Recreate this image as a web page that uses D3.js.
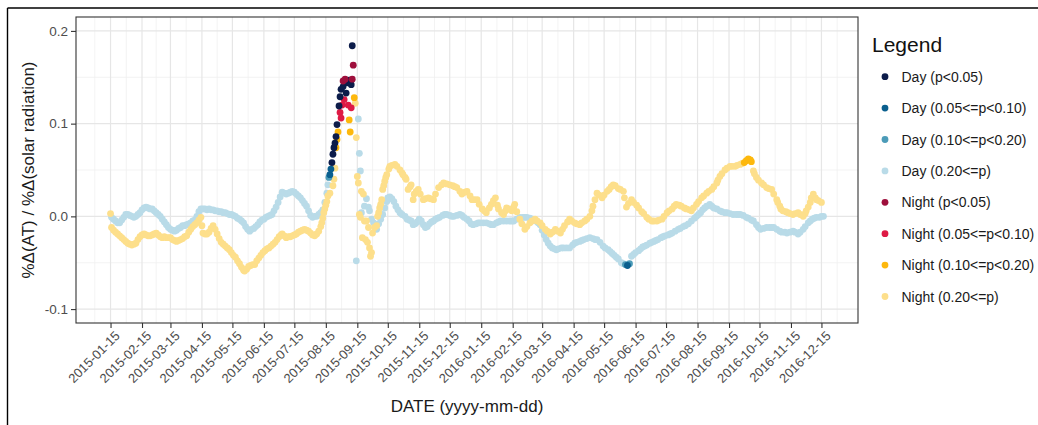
<!DOCTYPE html>
<html>
<head>
<meta charset="utf-8">
<script src="https://cdn.jsdelivr.net/npm/d3@7/dist/d3.min.js"></script>
<style>
  body { margin: 0; background: #fff; }
  svg { display: block; font-family: "Liberation Sans", Arial, Helvetica, sans-serif; }
</style>
</head>
<body>
<svg id="chart" width="1038" height="425"></svg>
<script>
// ---- data -------------------------------------------------------------
// Each point is [day offset from startDate, %Δ(AT) / %Δ(solar radiation)].
const startDate = "2015-01-15";

const tickLabels = [
  "2015-01-15","2015-02-15","2015-03-15","2015-04-15","2015-05-15","2015-06-15",
  "2015-07-15","2015-08-15","2015-09-15","2015-10-15","2015-11-15","2015-12-15",
  "2016-01-15","2016-02-15","2016-03-15","2016-04-15","2016-05-15","2016-06-15",
  "2016-07-15","2016-08-15","2016-09-15","2016-10-15","2016-11-15","2016-12-15"
];
const yTicks = [-0.1, 0.0, 0.1, 0.2];
const yMinorTicks = [-0.05, 0.05, 0.15];

const legendLabels = [
  "Day (p<0.05)", "Day (0.05<=p<0.10)", "Day (0.10<=p<0.20)", "Day (0.20<=p)",
  "Night (p<0.05)", "Night (0.05<=p<0.10)", "Night (0.10<=p<0.20)", "Night (0.20<=p)"
];
const legendColors = [
  "#0c1c4a", "#0a5f8e", "#4b9bb8", "#b9dbe8",
  "#9e0f3c", "#de1a45", "#fdb80d", "#fddf8b"
];

// Day, 0.20<=p
const dayWeak = [
  [1,-0.001],[3,-0.003],[5,-0.005],[7,-0.007],[9,-0.007],[11,-0.004],[13,-0.001],[15,0.002],[17,0.002],[19,0.001],
  [21,0.000],[23,-0.001],[25,0.000],[27,0.002],[29,0.004],[31,0.007],[33,0.009],[35,0.010],[37,0.009],[39,0.008],
  [41,0.008],[43,0.006],[45,0.004],[47,0.002],[49,0.000],[51,-0.003],[53,-0.006],[55,-0.009],[57,-0.012],[59,-0.014],
  [61,-0.015],[63,-0.016],[65,-0.015],[67,-0.013],[69,-0.012],[71,-0.010],[73,-0.010],[75,-0.009],[77,-0.008],[79,-0.007],
  [81,-0.005],[83,-0.004],[85,0.000],[87,0.005],[89,0.008],[91,0.008],[93,0.008],[95,0.007],[97,0.008],[99,0.007],
  [101,0.007],[103,0.006],[105,0.006],[107,0.005],[109,0.005],[111,0.004],[113,0.004],[115,0.003],[117,0.002],[119,0.002],
  [121,0.001],[123,0.000],[125,-0.002],[127,-0.003],[129,-0.005],[131,-0.007],[133,-0.011],[135,-0.014],[137,-0.016],[139,-0.014],
  [141,-0.013],[143,-0.011],[145,-0.009],[147,-0.006],[149,-0.004],[151,-0.003],[153,-0.001],[155,0.000],[157,0.001],[159,0.002],
  [161,0.006],[163,0.010],[165,0.015],[167,0.021],[169,0.026],[171,0.025],[173,0.024],[175,0.025],[177,0.026],[179,0.027],
  [181,0.026],[183,0.024],[185,0.022],[187,0.020],[189,0.017],[191,0.014],[193,0.011],[195,0.006],[197,0.001],[199,-0.001],
  [201,0.000],[203,0.000],[205,0.002],[207,0.004],[209,0.007],[211,0.015],[213,0.025],[214,0.034],
  [242,-0.048],[244,0.105],[245,0.068],[246,0.049],[247,0.004],[250,0.011],[252,0.019],[254,0.010],[255,0.006],[257,-0.003],
  [259,-0.007],[261,-0.011],[262,-0.014],[264,-0.008],[266,-0.003],[268,0.002],[270,0.009],[272,0.016],[273,0.020],[275,0.021],
  [277,0.019],[279,0.016],[281,0.011],[283,0.007],[285,0.004],[287,0.002],[290,0.000],[292,-0.003],[294,-0.004],[296,-0.005],
  [298,-0.009],[300,-0.008],[302,-0.006],[304,-0.003],[306,-0.005],[308,-0.009],[310,-0.012],[312,-0.011],[314,-0.008],[316,-0.006],
  [318,-0.005],[320,-0.003],[322,-0.002],[324,-0.001],[327,0.001],[329,0.002],[331,0.002],[334,0.001],[336,0.000],[338,0.000],
  [341,0.001],[344,0.002],[346,0.001],[348,-0.001],[351,-0.003],[353,-0.005],[355,-0.008],[357,-0.009],[360,-0.008],[362,-0.007],
  [364,-0.007],[367,-0.007],[370,-0.007],[373,-0.008],[375,-0.009],[377,-0.009],[380,-0.007],[382,-0.006],[384,-0.005],[387,-0.005],
  [390,-0.005],[393,-0.005],[395,-0.005],[397,-0.005],[400,-0.003],[403,-0.001],[406,-0.001],[408,-0.001],[410,-0.001],[413,-0.002],
  [416,-0.003],[419,-0.005],[421,-0.007],[423,-0.009],[425,-0.015],[427,-0.020],[429,-0.025],[431,-0.029],[433,-0.032],[435,-0.034],
  [437,-0.035],[439,-0.036],[441,-0.035],[444,-0.034],[446,-0.034],[449,-0.034],[452,-0.034],[455,-0.031],[457,-0.029],[459,-0.028],
  [462,-0.027],[464,-0.026],[466,-0.025],[469,-0.024],[472,-0.023],[475,-0.024],[477,-0.025],[479,-0.025],[482,-0.028],[485,-0.032],
  [487,-0.034],[490,-0.036],[492,-0.038],[494,-0.040],[496,-0.042],[498,-0.044],[500,-0.046],[503,-0.050],[505,-0.051],
  [513,-0.043],[515,-0.041],[517,-0.039],[520,-0.037],[522,-0.035],[524,-0.033],[526,-0.032],[528,-0.031],[531,-0.029],[533,-0.028],
  [535,-0.027],[537,-0.026],[539,-0.025],[542,-0.023],[544,-0.022],[546,-0.021],[549,-0.020],[551,-0.019],[553,-0.018],[556,-0.016],
  [559,-0.014],[561,-0.013],[564,-0.011],[566,-0.010],[569,-0.008],[572,-0.005],[575,-0.002],[577,0.000],[579,0.002],[581,0.004],
  [583,0.007],[585,0.009],[587,0.011],[590,0.013],[592,0.011],[594,0.009],[597,0.008],[600,0.006],[602,0.005],[605,0.004],
  [607,0.004],[610,0.003],[613,0.002],[616,0.002],[618,0.002],[620,0.002],[623,0.001],[626,-0.001],[628,-0.002],[631,-0.004],
  [633,-0.005],[636,-0.009],[638,-0.012],[640,-0.014],[643,-0.013],[646,-0.012],[649,-0.012],[651,-0.012],[653,-0.012],[656,-0.014],
  [659,-0.016],[661,-0.017],[664,-0.017],[666,-0.018],[669,-0.017],[672,-0.016],[674,-0.017],[677,-0.019],[679,-0.017],[682,-0.014],
  [684,-0.011],[687,-0.007],[689,-0.005],[691,-0.003],[693,-0.002],[695,-0.001],[698,-0.001],[700,0.000],[702,0.000]
];
// Day, 0.10<=p<0.20
const dayP20 = [[215,0.042],[507,-0.052],[511,-0.051]];
// Day, 0.05<=p<0.10
const dayP10 = [[216,0.045],[217,0.051],[509,-0.053]];
// Day, p<0.05
const dayP05 = [
  [218,0.058],[219,0.067],[220,0.074],[221,0.079],[222,0.086],[223,0.099],[225,0.119],[226,0.129],
  [227,0.137],[229,0.140],[231,0.146],[232,0.133],[233,0.144],[235,0.147],[237,0.142],[238,0.184]
];

// Night, 0.20<=p
const nightWeak = [
  [0,0.003],[1,-0.012],[3,-0.015],[5,-0.017],[7,-0.019],[9,-0.021],[11,-0.023],[13,-0.025],[15,-0.027],[17,-0.029],
  [19,-0.030],[21,-0.031],[23,-0.030],[25,-0.029],[27,-0.025],[29,-0.022],[31,-0.020],[33,-0.019],[35,-0.020],[37,-0.021],
  [39,-0.021],[41,-0.020],[43,-0.019],[45,-0.018],[47,-0.020],[49,-0.022],[51,-0.023],[53,-0.022],[55,-0.023],[57,-0.023],
  [59,-0.023],[61,-0.025],[63,-0.026],[65,-0.027],[67,-0.026],[69,-0.025],[71,-0.024],[73,-0.022],[75,-0.021],[77,-0.017],
  [79,-0.014],[81,-0.011],[83,-0.009],[85,-0.007],[87,-0.004],[89,-0.001],[90,-0.010],[91,-0.018],[93,-0.019],[95,-0.019],
  [97,-0.017],[99,-0.013],[101,-0.010],[103,-0.014],[105,-0.019],[107,-0.024],[109,-0.028],[111,-0.030],[113,-0.032],[115,-0.034],
  [117,-0.036],[119,-0.039],[121,-0.042],[123,-0.044],[125,-0.048],[127,-0.051],[129,-0.055],[131,-0.058],[132,-0.059],[134,-0.057],
  [136,-0.054],[138,-0.053],[140,-0.052],[142,-0.052],[144,-0.048],[146,-0.045],[148,-0.042],[150,-0.039],[152,-0.037],[154,-0.035],
  [156,-0.034],[158,-0.032],[160,-0.030],[162,-0.028],[164,-0.025],[166,-0.022],[168,-0.020],[169,-0.019],[171,-0.021],[173,-0.023],
  [175,-0.022],[177,-0.022],[179,-0.021],[181,-0.020],[183,-0.019],[185,-0.017],[187,-0.016],[189,-0.015],[191,-0.014],[193,-0.015],
  [195,-0.016],[197,-0.018],[199,-0.020],[201,-0.021],[203,-0.019],[205,-0.016],[207,-0.011],[208,-0.007],[209,-0.002],[210,0.004],
  [211,0.008],[212,0.012],[213,0.016],[214,0.022],[216,0.025],[219,0.033],[220,0.040],[221,0.052],
  [241,0.122],[242,0.085],[243,0.043],[244,0.036],[245,0.002],[246,-0.001],[247,0.027],[248,-0.023],[249,0.024],[250,-0.005],
  [251,-0.025],[252,-0.005],[253,-0.028],[254,-0.012],[255,-0.034],[256,-0.043],[257,-0.039],[258,-0.018],
  [260,-0.012],[262,-0.010],[263,0.000],[264,0.004],[265,0.009],[266,0.013],[267,0.018],[268,0.029],[269,0.033],[270,0.038],
  [271,0.042],[272,0.045],[274,0.051],[275,0.054],[277,0.055],[280,0.056],[282,0.054],[285,0.050],[287,0.047],[288,0.045],
  [290,0.042],[291,0.040],[293,0.029],[295,0.032],[296,0.034],[298,0.018],[299,0.024],[301,0.027],[303,0.029],[305,0.024],
  [308,0.018],[310,0.019],[313,0.020],[315,0.019],[318,0.018],[320,0.024],[323,0.031],[326,0.034],[328,0.036],[331,0.035],
  [334,0.034],[337,0.033],[339,0.032],[341,0.031],[344,0.027],[346,0.024],[349,0.026],[351,0.027],[354,0.022],[356,0.018],
  [358,0.018],[361,0.018],[363,0.013],[366,0.008],[368,0.006],[370,0.004],[373,0.009],[375,0.013],[377,0.017],[379,0.020],
  [381,0.012],[382,0.008],[385,0.004],[387,0.002],[389,0.006],[390,0.009],[392,0.008],[395,0.006],[397,0.010],[398,0.013],
  [400,0.005],[403,-0.003],[405,-0.008],[408,-0.014],[410,-0.011],[413,-0.007],[415,-0.005],[418,-0.003],[420,-0.005],[423,-0.007],
  [425,-0.010],[428,-0.014],[430,-0.016],[433,-0.019],[435,-0.017],[438,-0.014],[440,-0.016],[443,-0.018],[445,-0.014],[447,-0.010],
  [450,-0.006],[452,-0.003],[454,-0.005],[457,-0.007],[459,-0.008],[462,-0.009],[464,-0.007],[467,-0.005],[469,-0.003],[472,0.000],
  [474,0.006],[475,0.011],[477,0.018],[479,0.025],[481,0.023],[484,0.020],[486,0.023],[489,0.027],[491,0.029],[493,0.032],
  [495,0.034],[497,0.033],[500,0.030],[502,0.029],[505,0.027],[506,0.020],[508,0.010],[510,0.014],[513,0.018],[515,0.015],
  [518,0.012],[520,0.009],[523,0.005],[525,0.003],[528,-0.001],[530,-0.003],[533,-0.005],[535,-0.005],[538,-0.005],[540,-0.004],
  [543,-0.003],[545,0.000],[548,0.004],[550,0.006],[553,0.008],[555,0.011],[557,0.013],[560,0.012],[562,0.011],[565,0.009],
  [567,0.008],[570,0.007],[572,0.006],[574,0.009],[577,0.013],[579,0.016],[582,0.020],[584,0.022],[587,0.025],[589,0.027],
  [592,0.029],[594,0.032],[597,0.036],[598,0.039],[600,0.043],[602,0.046],[605,0.050],[607,0.052],[610,0.054],[612,0.054],
  [615,0.054],[617,0.055],[620,0.056],[622,0.057],
  [633,0.049],[634,0.046],[636,0.042],[638,0.039],[641,0.036],[643,0.034],[646,0.031],[648,0.030],[651,0.029],[653,0.024],
  [656,0.018],[657,0.015],[659,0.011],[660,0.008],[662,0.006],[665,0.005],[667,0.004],[669,0.003],[672,0.002],[674,0.003],
  [677,0.004],[679,0.002],[682,0.000],[684,0.003],[685,0.006],[687,0.010],[689,0.015],[690,0.020],[692,0.024],[694,0.020],
  [695,0.018],[697,0.017],[700,0.015]
];
// Night, 0.10<=p<0.20
const nightP20 = [
  [222,0.074],[223,0.083],[224,0.091],[235,0.104],[236,0.091],[240,0.128],
  [624,0.058],[626,0.060],[628,0.062],[630,0.061],[631,0.059]
];
// Night, 0.05<=p<0.10
const nightP10 = [[226,0.112],[227,0.106],[228,0.120],[230,0.126],[233,0.146],[234,0.120],[237,0.117]];
// Night, p<0.05
const nightP05 = [[229,0.146],[231,0.148],[238,0.148],[239,0.163]];

// ---- layout -----------------------------------------------------------
const W = 1038, H = 425;
const panel = { left: 76, right: 858, top: 17, bottom: 323 };
const pointRadius = 3.4;

const svg = d3.select("#chart");
const parse = d3.utcParse("%Y-%m-%d");
const t0 = parse(startDate);
const dayToDate = d => d3.utcDay.offset(t0, d);

const x = d3.scaleUtc()
  .domain([d3.utcDay.offset(t0, -34), d3.utcDay.offset(t0, 736)])
  .range([panel.left, panel.right]);
const y = d3.scaleLinear()
  .domain([-0.115, 0.215])
  .range([panel.bottom, panel.top]);

const tickDates = tickLabels.map(parse);
// minor vertical grid: midway between the monthly breaks, one extra at each end
const minorDates = [];
for (let i = -1; i < tickDates.length; i++) {
  const a = i < 0 ? d3.utcMonth.offset(tickDates[0], -1) : tickDates[i];
  const b = i + 1 < tickDates.length ? tickDates[i + 1] : d3.utcMonth.offset(tickDates[i], 1);
  minorDates.push(new Date((+a + +b) / 2));
}

// outer frame (only left and top edges fall inside the canvas)
svg.append("rect").attr("x", 0).attr("y", 0).attr("width", W).attr("height", H).attr("fill", "#fff");
svg.append("line").attr("x1", 7.5).attr("x2", 7.5).attr("y1", 8).attr("y2", H)
  .attr("stroke", "#000").attr("stroke-width", 1.4);
svg.append("line").attr("x1", 7.5).attr("x2", W).attr("y1", 8).attr("y2", 8)
  .attr("stroke", "#000").attr("stroke-width", 1.4);

// grid
const grid = svg.append("g");
grid.selectAll("line.vmin").data(minorDates.filter(d => x(d) > panel.left && x(d) < panel.right))
  .join("line").attr("x1", d => x(d)).attr("x2", d => x(d))
  .attr("y1", panel.top).attr("y2", panel.bottom)
  .attr("stroke", "#f0f0f0").attr("stroke-width", 0.8);
grid.selectAll("line.hmin").data(yMinorTicks)
  .join("line").attr("y1", d => y(d)).attr("y2", d => y(d))
  .attr("x1", panel.left).attr("x2", panel.right)
  .attr("stroke", "#f0f0f0").attr("stroke-width", 0.8);
grid.selectAll("line.vmaj").data(tickDates)
  .join("line").attr("x1", d => x(d)).attr("x2", d => x(d))
  .attr("y1", panel.top).attr("y2", panel.bottom)
  .attr("stroke", "#e6e6e6").attr("stroke-width", 1.2);
grid.selectAll("line.hmaj").data(yTicks)
  .join("line").attr("y1", d => y(d)).attr("y2", d => y(d))
  .attr("x1", panel.left).attr("x2", panel.right)
  .attr("stroke", "#e6e6e6").attr("stroke-width", 1.2);

// points, weakest classes first so the significant ones sit on top
const layers = [
  [dayWeak, 3], [nightWeak, 7],
  [dayP20, 2], [dayP10, 1],
  [nightP20, 6], [nightP10, 5],
  [dayP05, 0], [nightP05, 4]
];
const pts = svg.append("g");
layers.forEach(([series, k]) => {
  pts.append("g").selectAll("circle")
    .data(series)
    .join("circle")
    .attr("cx", d => x(dayToDate(d[0])))
    .attr("cy", d => y(d[1]))
    .attr("r", pointRadius)
    .attr("fill", legendColors[k]);
});

// panel border
svg.append("rect")
  .attr("x", panel.left).attr("y", panel.top)
  .attr("width", panel.right - panel.left).attr("height", panel.bottom - panel.top)
  .attr("fill", "none").attr("stroke", "#333").attr("stroke-width", 1.1);

// y axis
const yAxis = svg.append("g").attr("transform", `translate(${panel.left},0)`)
  .call(d3.axisLeft(y).tickValues(yTicks).tickSize(5).tickPadding(3)
    .tickFormat(d => d3.format(".1f")(d).replace("\u2212", "-")));
yAxis.select(".domain").remove();
yAxis.selectAll(".tick line").attr("stroke", "#333").attr("stroke-width", 1.1);
yAxis.selectAll(".tick text").attr("fill", "#4d4d4d").style("font-size", "13.5px");

// x axis
const xAxis = svg.append("g").attr("transform", `translate(0,${panel.bottom})`)
  .call(d3.axisBottom(x).tickValues(tickDates).tickFormat((d, i) => tickLabels[i]).tickSize(5));
xAxis.select(".domain").remove();
xAxis.selectAll(".tick line").attr("stroke", "#333").attr("stroke-width", 1.1);
xAxis.selectAll(".tick text")
  .attr("fill", "#4d4d4d").style("font-size", "13px")
  .attr("text-anchor", "end")
  .attr("x", 0).attr("y", 0).attr("dy", "0.72em")
  .attr("transform", "translate(3,7) rotate(-45)");

// axis titles
svg.append("text")
  .attr("x", (panel.left + panel.right) / 2).attr("y", 412)
  .attr("text-anchor", "middle").attr("fill", "#1a1a1a").style("font-size", "17px")
  .text("DATE (yyyy-mm-dd)");
svg.append("text")
  .attr("transform", `translate(34,${(panel.top + panel.bottom) / 2}) rotate(-90)`)
  .attr("text-anchor", "middle").attr("fill", "#1a1a1a").style("font-size", "17px")
  .text("%Δ(AT) / %Δ(solar radiation)");

// legend
const legend = svg.append("g");
legend.append("text").attr("x", 872).attr("y", 52)
  .attr("fill", "#111").style("font-size", "21px").text("Legend");
const item = legend.selectAll("g.item").data(legendLabels).join("g")
  .attr("transform", (d, i) => `translate(885,${76.7 + i * 31.4})`);
item.append("circle").attr("r", pointRadius).attr("fill", (d, i) => legendColors[i]);
item.append("text").attr("x", 16.5).attr("y", 5).attr("fill", "#1a1a1a")
  .style("font-size", "14px").text(d => d);
</script>
</body>
</html>
